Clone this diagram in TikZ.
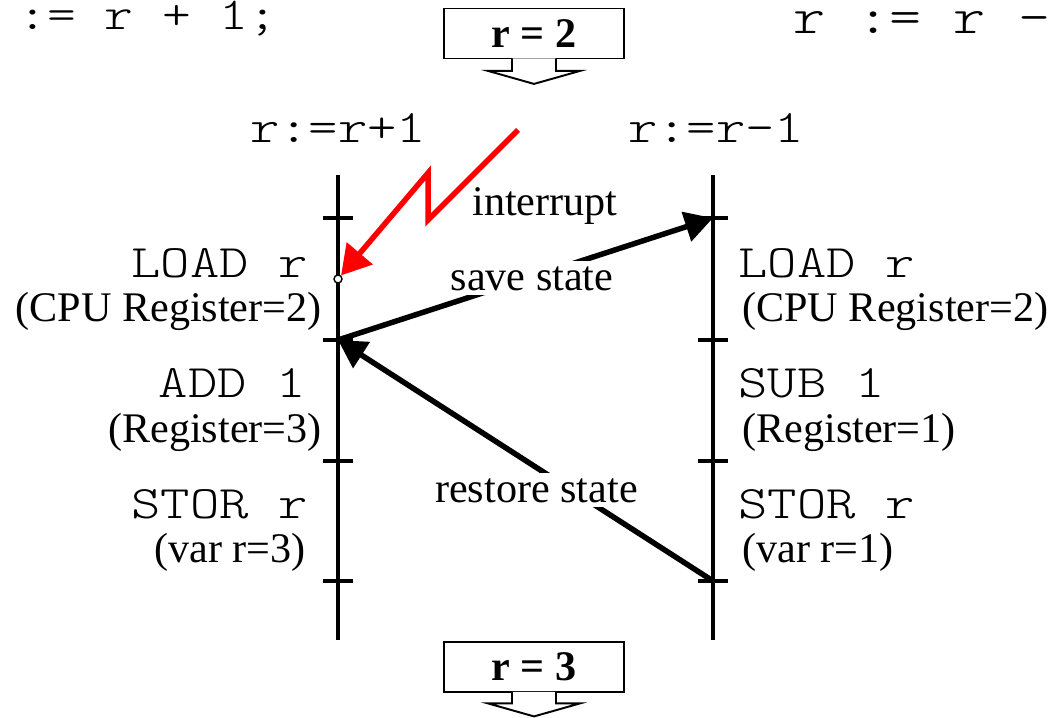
\documentclass[tikz,border=0pt]{standalone}
\usepackage{fontspec}
\setmainfont{Liberation Serif}
\setmonofont{lmmonolt10-regular.otf}[FakeStretch=1.2]
\usetikzlibrary{arrows.meta, positioning}

\begin{document}
\begin{tikzpicture}[
    x=0.02cm, y=-0.02cm,
    code/.style={font=\fontsize{26.5}{28}\selectfont\ttfamily, inner sep=0pt},
    txt/.style={font=\fontsize{24}{26}\selectfont, inner sep=0pt},
    valbox/.style={rectangle, draw, fill=white, line width=1.1pt, minimum width=3.6cm, minimum height=1cm, font=\fontsize{24}{26}\selectfont\bfseries},
    flow/.style={draw, fill=white, line width=1.1pt},
    timeline/.style={line width=0.08cm},
    arrow/.style={-{Triangle[length=0.56cm, width=0.6cm]}, line width=0.11cm},
    irq/.style={-{Triangle[length=0.58cm, width=0.66cm]}, line width=0.11cm, red, line join=miter},
    statelbl/.style={txt, fill=white, inner sep=0.1cm, anchor=base}
]
    \useasboundingbox (0,0) rectangle (1058,717);

    % Code lines
    \node (codel) [code, font=\fontsize{26}{28}\selectfont\ttfamily, anchor=base west] at (18,29) {:= r + 1;};
    \node (coder) [code, font=\fontsize{29}{32}\selectfont\ttfamily, anchor=base west] at (793,33) {r := r -};

    % Value of r before and after
    \node (before) [valbox] at (534,33.5) {r = 2};
    \draw [flow] ([xshift=-0.44cm, yshift=0.6pt]before.south) -- ++(0,12.5) -- ++(-24,0) -- ++(46,13) -- ++(46,-13) -- ++(-24,0) -- ++(0,-12.5);
    \node (after) [valbox] at (534,667) {r = 3};
    \draw [flow] ([xshift=-0.44cm, yshift=0.6pt]after.south) -- ++(0,11.5) -- ++(-24,0) -- ++(46,13) -- ++(46,-13) -- ++(-24,0) -- ++(0,-11.5);

    % Timelines
    \coordinate (ltop) at (338,175);
    \coordinate (lend) at (338,640);
    \coordinate (rtop) at (713,175);
    \coordinate (rend) at (713,640);
    \coordinate (l1) at (338,218);
    \coordinate (l2) at (338,340);
    \coordinate (l3) at (338,461);
    \coordinate (l4) at (338,581);
    \coordinate (r1) at (713,218);
    \coordinate (r2) at (713,340);
    \coordinate (r3) at (713,461);
    \coordinate (r4) at (713,581);
    \draw [timeline] (ltop) -- (lend);
    \draw [timeline] (rtop) -- (rend);
    \draw [timeline] ([xshift=-0.3cm]l1) -- ([xshift=0.3cm]l1) ([xshift=-0.3cm]l2) -- ([xshift=0.3cm]l2)
        ([xshift=-0.3cm]l3) -- ([xshift=0.3cm]l3) ([xshift=-0.3cm]l4) -- ([xshift=0.3cm]l4);
    \draw [timeline] ([xshift=-0.3cm]r1) -- ([xshift=0.3cm]r1) ([xshift=-0.3cm]r2) -- ([xshift=0.3cm]r2)
        ([xshift=-0.3cm]r3) -- ([xshift=0.3cm]r3) ([xshift=-0.3cm]r4) -- ([xshift=0.3cm]r4);

    % Processes
    \node (procl) [code, anchor=base] at (338,142) {r:=r+1};
    \node (procr) [code, anchor=base] at (716,142) {r:=r-1};

    \node (loadl) [code, anchor=base east] at (308,277) {LOAD r};
    \node (loadlv) [txt, anchor=base east] at (322,321) {(CPU Register=2)};
    \node (addl) [code, anchor=base east] at (306,397) {ADD 1};
    \node (addlv) [txt, anchor=base east] at (322,442) {(Register=3)};
    \node (storl) [code, anchor=base east] at (308,518) {STOR r};
    \node (storlv) [txt, anchor=base east] at (306,562) {(var r=3)};

    \node (loadr) [code, anchor=base west] at (738,277) {LOAD r};
    \node (loadrv) [txt, anchor=base west] at (742,321) {(CPU Register=2)};
    \node (subr) [code, anchor=base west] at (738,397) {SUB 1};
    \node (subrv) [txt, anchor=base west] at (742,442) {(Register=1)};
    \node (storr) [code, anchor=base west] at (738,518) {STOR r};
    \node (storrv) [txt, anchor=base west] at (742,562) {(var r=1)};

    % Interrupt
    \node (hit) [circle, draw, fill=white, line width=0.8pt, inner sep=0pt, minimum size=0.16cm] at (338,279) {};
    \coordinate (irqsrc) at (518,130);
    \draw [irq] (irqsrc) -- ++(-90,90) -- ++(0,-47) -- (hit);
    \node (irqlbl) [txt, anchor=base] at (545,215) {interrupt};

    % Context switch
    \draw [arrow] (l2) -- node[statelbl, pos=0.5, xshift=0.13cm, yshift=-0.22cm] {save state} (r1);
    \draw [arrow] (r4) -- node[statelbl, pos=0.5, xshift=0.22cm, yshift=-0.83cm] {restore state} (l2);
\end{tikzpicture}
\end{document}
